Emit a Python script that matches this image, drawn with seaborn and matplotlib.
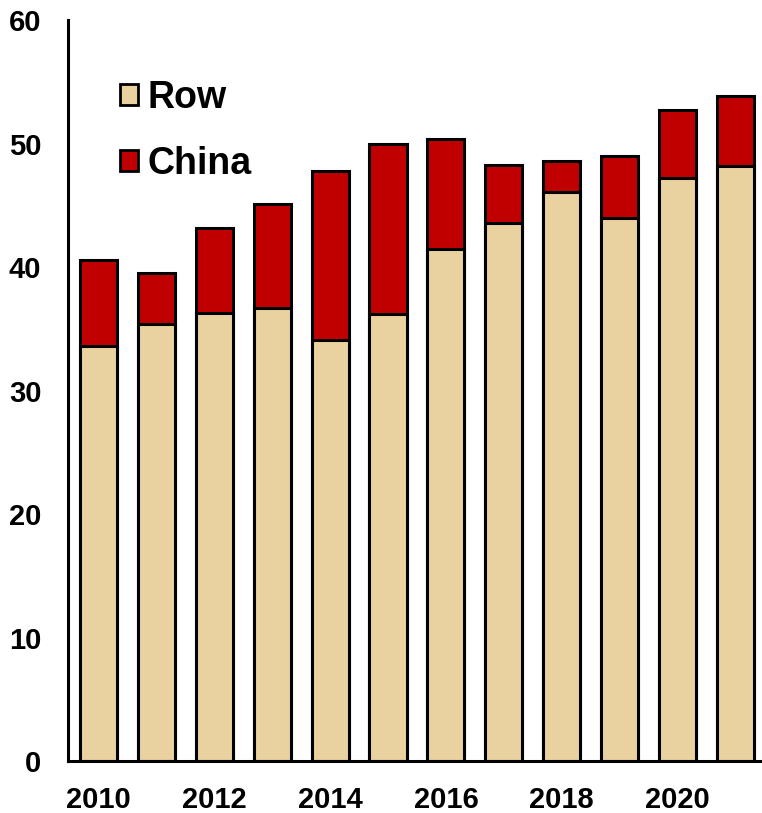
import matplotlib
matplotlib.use("Agg")
import matplotlib.pyplot as plt
import seaborn as sns
import pandas as pd
from matplotlib.patches import Patch

years = [2010, 2011, 2012, 2013, 2014, 2015, 2016, 2017, 2018, 2019, 2020, 2021]
row_vals = [33.6, 35.4, 36.3, 36.7, 34.1, 36.2, 41.5, 43.6, 46.1, 44.0, 47.2, 48.2]
china_vals = [7.0, 4.1, 6.9, 8.4, 13.7, 13.8, 8.9, 4.7, 2.5, 5.0, 5.5, 5.7]
yticks = [0, 10, 20, 30, 40, 50, 60]

ROW_COLOR = "#E9D29F"
CHINA_COLOR = "#C00000"

df = pd.DataFrame({"year": [str(y) for y in years], "Row": row_vals, "China": china_vals})
df["total"] = df["Row"] + df["China"]

sns.set_style("white")
plt.rcParams["font.family"] = ["Liberation Sans", "DejaVu Sans"]
plt.rcParams["text.color"] = "black"
plt.rcParams["xtick.color"] = "black"
plt.rcParams["ytick.color"] = "black"

fig = plt.figure(figsize=(7.62, 8.13), dpi=100)
ax = fig.add_axes([0.089, 0.064, 0.911, 0.911])

order = df["year"].tolist()
sns.barplot(data=df, x="year", y="total", order=order, color=CHINA_COLOR,
            edgecolor="black", linewidth=2.2, width=0.64, saturation=1, ax=ax)
sns.barplot(data=df, x="year", y="Row", order=order, color=ROW_COLOR,
            edgecolor="black", linewidth=2.2, width=0.64, saturation=1, ax=ax)

ax.set_ylim(0, 60)
ax.set_xlim(-0.53, 11.46)
ax.set_yticks(yticks)
ax.set_yticklabels([str(t) for t in yticks], fontsize=21, fontweight="bold")
ax.set_xticks(range(len(years)))
ax.set_xticklabels([str(y) if i % 2 == 0 else "" for i, y in enumerate(years)],
                   fontsize=21, fontweight="bold")
ax.tick_params(axis="both", length=0, colors="black")
ax.tick_params(axis="y", pad=19)
ax.tick_params(axis="x", pad=18)
ax.set_xlabel("")
ax.set_ylabel("")

for side in ["top", "right"]:
    ax.spines[side].set_visible(False)
for side in ["left", "bottom"]:
    ax.spines[side].set_linewidth(2.2)
    ax.spines[side].set_color("black")

handles = [Patch(facecolor=ROW_COLOR, edgecolor="black", linewidth=2, label="Row"),
           Patch(facecolor=CHINA_COLOR, edgecolor="black", linewidth=2, label="China")]
ax.legend(handles=handles, loc="upper left", bbox_to_anchor=(0.026, 0.965),
          frameon=False, prop={"size": 27, "weight": "bold"},
          handlelength=0.5, handleheight=0.5, handletextpad=0.25, labelspacing=0.8)

fig.savefig("out.png", dpi=100)
